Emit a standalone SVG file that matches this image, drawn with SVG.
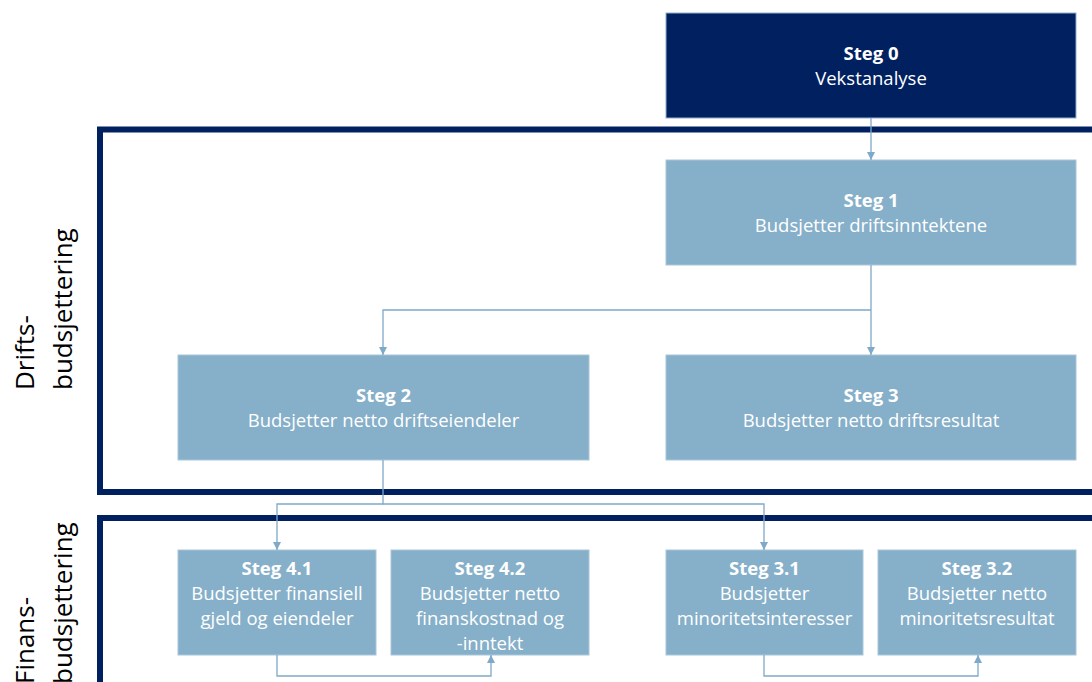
<svg xmlns="http://www.w3.org/2000/svg" width="1092" height="682" viewBox="0 0 1092 682">
  <defs>
    <marker id="arrow" viewBox="0 0 10 10" refX="10" refY="5" markerWidth="8" markerHeight="8" markerUnits="userSpaceOnUse" orient="auto">
      <path d="M0,0 L10,5 L0,10 Z" fill="#7fa9c9"/>
    </marker>
    <style>
      .frame { fill: none; stroke: #002060; stroke-width: 6; }
      .box { fill: #86afc9; stroke: #a9c6da; stroke-width: 1; }
      .box-dark { fill: #002060; stroke: #8fb0cc; stroke-width: 1; }
      .t { font-family: "Open Sans", "Noto Sans", sans-serif; font-size: 18.5px; fill: #ffffff; text-anchor: middle; }
      .b { font-weight: bold; }
      .side { font-family: "Open Sans", "Noto Sans", sans-serif; font-size: 26px; fill: #000000; }
      .conn { fill: none; stroke: #7fa9c9; stroke-width: 1.3; }
    </style>
  </defs>
  <rect width="1092" height="682" fill="#ffffff"/>

  <!-- Section frames -->
  <g id="frame-drift">
    <rect class="frame" x="100" y="129.5" width="1010" height="362.5"/>
    <text class="side" transform="translate(34,390) rotate(-90)">Drifts-</text>
    <text class="side" transform="translate(72,390) rotate(-90)">budsjettering</text>
  </g>
  <g id="frame-finans">
    <rect class="frame" x="100" y="518" width="1010" height="200"/>
    <text class="side" transform="translate(34,684) rotate(-90)">Finans-</text>
    <text class="side" transform="translate(72,684) rotate(-90)">budsjettering</text>
  </g>

  <!-- Nodes -->
  <g id="steg0">
    <rect class="box-dark" x="666" y="13" width="410" height="105"/>
    <text class="t b" x="871" y="60">Steg 0</text>
    <text class="t" x="871" y="85">Vekstanalyse</text>
  </g>
  <g id="steg1">
    <rect class="box" x="666" y="160" width="410" height="105"/>
    <text class="t b" x="871" y="207">Steg 1</text>
    <text class="t" x="871" y="232">Budsjetter driftsinntektene</text>
  </g>
  <g id="steg2">
    <rect class="box" x="178" y="355" width="411" height="105"/>
    <text class="t b" x="383.5" y="402">Steg 2</text>
    <text class="t" x="383.5" y="427">Budsjetter netto driftseiendeler</text>
  </g>
  <g id="steg3">
    <rect class="box" x="666" y="355" width="410" height="105"/>
    <text class="t b" x="871" y="402">Steg 3</text>
    <text class="t" x="871" y="427">Budsjetter netto driftsresultat</text>
  </g>
  <g id="steg41">
    <rect class="box" x="178" y="550" width="198" height="105"/>
    <text class="t b" x="277" y="575">Steg 4.1</text>
    <text class="t" x="277" y="600">Budsjetter finansiell</text>
    <text class="t" x="277" y="625">gjeld og eiendeler</text>
  </g>
  <g id="steg42">
    <rect class="box" x="391" y="550" width="198" height="105"/>
    <text class="t b" x="490" y="575">Steg 4.2</text>
    <text class="t" x="490" y="600">Budsjetter netto</text>
    <text class="t" x="490" y="625">finanskostnad og</text>
    <text class="t" x="490" y="650">-inntekt</text>
  </g>
  <g id="steg31">
    <rect class="box" x="666" y="550" width="197" height="105"/>
    <text class="t b" x="764.5" y="575">Steg 3.1</text>
    <text class="t" x="764.5" y="600">Budsjetter</text>
    <text class="t" x="764.5" y="625">minoritetsinteresser</text>
  </g>
  <g id="steg32">
    <rect class="box" x="878" y="550" width="198" height="105"/>
    <text class="t b" x="977" y="575">Steg 3.2</text>
    <text class="t" x="977" y="600">Budsjetter netto</text>
    <text class="t" x="977" y="625">minoritetsresultat</text>
  </g>

  <!-- Connectors -->
  <g id="connectors">
    <path class="conn" d="M871,118 V160" marker-end="url(#arrow)"/>
    <path class="conn" d="M871,265 V355" marker-end="url(#arrow)"/>
    <path class="conn" d="M871,310 H383 V355" marker-end="url(#arrow)"/>
    <path class="conn" d="M383,460 V504 H277 V550" marker-end="url(#arrow)"/>
    <path class="conn" d="M383,504 H764 V550" marker-end="url(#arrow)"/>
    <path class="conn" d="M277,655 V676 H491 V655" marker-end="url(#arrow)"/>
    <path class="conn" d="M764,655 V676 H978 V655" marker-end="url(#arrow)"/>
  </g>
</svg>
